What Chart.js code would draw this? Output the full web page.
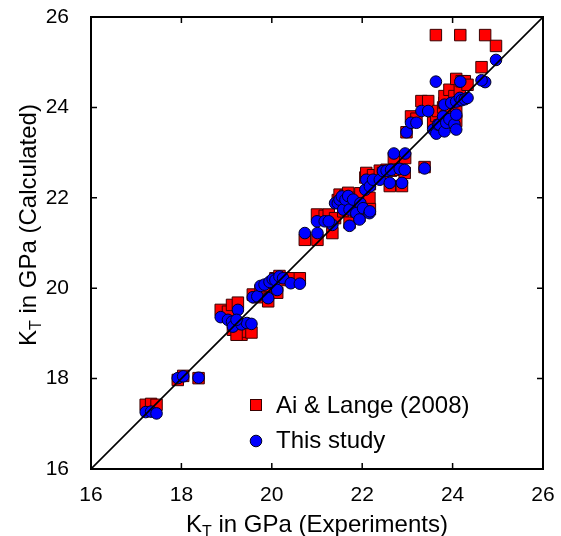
<!DOCTYPE html>
<html>
<head>
<meta charset="utf-8">
<script src="https://cdn.jsdelivr.net/npm/chart.js@4.4.1/dist/chart.umd.min.js"></script>
<style>
    body { margin: 0; background: #fff; }
    #wrap { width: 561px; height: 536px; }
</style>
</head>
<body>
<div id="wrap"><canvas id="chart" width="561" height="536"></canvas></div>
<script>
// 実験値 (x) と計算値 (y)
const expKT = [
    17.21, 17.33, 17.45, 17.92, 18.04, 18.38,
    18.87, 19.03, 19.12, 19.25, 19.14, 19.33, 19.45, 19.55, 19.22,
    19.58, 19.68, 19.75, 19.84, 19.92, 19.95, 20.02, 20.08, 20.12, 20.17, 20.25, 20.42, 20.62,
    20.73, 21.01, 21.34, 21.00, 21.17, 21.26, 21.40, 21.46, 21.50, 21.55, 21.58, 21.63, 21.69,
    21.72, 21.72, 21.80, 21.87, 21.94, 21.96, 22.02, 22.07, 22.09, 22.16, 22.17, 22.17, 22.24, 22.39,
    22.46, 22.54, 22.64, 22.61, 22.70, 22.83, 22.88, 22.94, 22.95, 22.98, 23.38,
    23.08, 23.20, 23.31, 23.46,
    23.57, 23.64, 23.68, 23.71, 23.79, 23.82, 23.82, 23.86, 23.93, 23.97, 24.04, 24.08, 24.08,
    24.08, 24.16, 24.20, 24.27, 24.33,
    23.63, 24.17, 24.72, 24.96, 24.64
];
const aiLangeKT = [
    17.42, 17.44, 17.42, 17.97, 18.06, 18.01,
    19.52, 19.48, 19.63, 19.68, 19.08, 18.97, 19.04, 19.02, 18.97,
    19.86, 19.80, 19.95, 20.02, 19.71, 20.05, 20.12, 20.22, 19.90, 20.27, 20.18, 20.22, 20.22,
    21.07, 21.07, 21.22, 21.63, 21.60, 21.63, 21.55, 21.95, 22.07, 21.90, 21.70, 22.05, 22.11,
    21.80, 21.45, 22.00, 21.70, 21.60, 22.10, 21.80, 22.45, 22.55, 22.00, 21.75, 22.30, 22.50, 22.60,
    22.55, 22.62, 22.60, 22.26, 22.88, 22.62, 22.26, 22.55, 22.88, 23.45, 22.68,
    23.80, 23.75, 24.14, 24.14,
    23.66, 23.81, 23.92, 23.60, 24.00, 24.10, 24.25, 23.80, 24.39, 24.00, 24.25, 24.63, 23.90,
    23.70, 24.39, 24.58, 24.58, 24.50,
    25.60, 25.60, 25.60, 25.36, 24.89
];
const thisStudyKT = [
    17.26, 17.27, 17.23, 18.01, 18.05, 18.02,
    19.36, 19.30, 19.26, 19.52, 19.15, 19.20, 19.23, 19.21, 19.30,
    19.80, 19.82, 20.05, 20.08, 19.78, 20.14, 20.20, 20.18, 19.96, 20.26, 20.22, 20.11, 20.10,
    21.22, 21.22, 21.40, 21.48, 21.48, 21.48, 21.88, 21.88, 21.96, 22.03, 21.74, 21.96, 22.04,
    21.74, 21.38, 21.96, 21.66, 21.52, 21.88, 21.77, 22.18, 22.40, 21.66, 21.70, 22.25, 22.40, 22.40,
    22.59, 22.60, 22.62, 22.33, 22.98, 22.64, 22.33, 22.62, 22.98, 23.45, 22.65,
    23.66, 23.66, 23.92, 23.92,
    23.51, 23.42, 23.62, 23.62, 23.80, 23.47, 24.06, 23.66, 23.74, 24.10, 23.63, 24.13, 23.84,
    23.51, 24.21, 24.16, 24.18, 24.21,
    24.57, 24.57, 24.56, 25.05, 24.60
];
const diagonalKT = [16, 26];
const axisTicks = [16, 18, 20, 22, 24, 26];

const FONT = "'Liberation Sans', Arial, Helvetica, sans-serif";

const toPoints = (xs, ys) => xs.map((x, i) => ({ x: x, y: ys[i] }));

// 枠と内向きの目盛り
const framePlugin = {
    id: 'frame',
    afterDraw(chart) {
        const { ctx, chartArea: a, scales } = chart;
        ctx.save();
        ctx.strokeStyle = '#000';
        ctx.lineWidth = 2;
        ctx.strokeRect(a.left, a.top, a.right - a.left, a.bottom - a.top);
        ctx.lineWidth = 1.5;
        const len = 6;
        axisTicks.forEach(v => {
            const px = scales.x.getPixelForValue(v);
            const py = scales.y.getPixelForValue(v);
            ctx.beginPath();
            ctx.moveTo(px, a.bottom); ctx.lineTo(px, a.bottom - len);
            ctx.moveTo(px, a.top); ctx.lineTo(px, a.top + len);
            ctx.moveTo(a.left, py); ctx.lineTo(a.left + len, py);
            ctx.moveTo(a.right, py); ctx.lineTo(a.right - len, py);
            ctx.stroke();
        });
        ctx.restore();
    }
};

// K_T の下付き文字付きタイトル
function drawKTTitle(ctx, cx, cy, rest) {
    const big = '24px ' + FONT;
    const small = '16px ' + FONT;
    ctx.font = big;
    const wK = ctx.measureText('K').width;
    const wRest = ctx.measureText(rest).width;
    ctx.font = small;
    const wT = ctx.measureText('T').width;
    const total = wK + wT + wRest;
    let x = cx - total / 2;
    ctx.fillStyle = '#000';
    ctx.textBaseline = 'alphabetic';
    ctx.textAlign = 'left';
    ctx.font = big;
    ctx.fillText('K', x, cy);
    x += wK;
    ctx.font = small;
    ctx.fillText('T', x, cy + 5);
    x += wT;
    ctx.font = big;
    ctx.fillText(rest, x, cy);
}

const titlePlugin = {
    id: 'titles',
    afterDraw(chart) {
        const { ctx } = chart;
        ctx.save();
        drawKTTitle(ctx, 317, 532, ' in GPa (Experiments)');
        ctx.translate(36, 225);
        ctx.rotate(-Math.PI / 2);
        drawKTTitle(ctx, 0, 0, ' in GPa (Calculated)');
        ctx.restore();
    }
};

// 凡例
const legendPlugin = {
    id: 'customLegend',
    afterDraw(chart) {
        const { ctx } = chart;
        ctx.save();
        ctx.lineWidth = 1;
        ctx.fillStyle = '#ff0000';
        ctx.strokeStyle = '#3a0000';
        ctx.fillRect(250, 399, 12, 12);
        ctx.strokeRect(250.5, 399.5, 11, 11);
        ctx.beginPath();
        ctx.arc(256, 441, 5.8, 0, Math.PI * 2);
        ctx.fillStyle = '#0000ff';
        ctx.fill();
        ctx.strokeStyle = '#000022';
        ctx.stroke();
        ctx.fillStyle = '#000';
        ctx.font = '24px ' + FONT;
        ctx.textBaseline = 'middle';
        ctx.textAlign = 'left';
        ctx.fillText('Ai & Lange (2008)', 276, 406);
        ctx.fillText('This study', 276, 441);
        ctx.restore();
    }
};

// 目盛りラベルの余白でプロット領域が縮まないようにする
function fixPadding(scale) {
    scale.paddingTop = 0;
    scale.paddingBottom = 0;
    scale.paddingLeft = 0;
    scale.paddingRight = 0;
}

const scaleBase = {
    type: 'linear',
    min: 16,
    max: 26,
    grid: { display: false, drawTicks: false },
    border: { display: false },
};

new Chart(document.getElementById('chart').getContext('2d'), {
    type: 'scatter',
    data: {
        datasets: [
            {
                type: 'line',
                label: 'y = x',
                data: toPoints(diagonalKT, diagonalKT),
                borderColor: '#000',
                borderWidth: 1.6,
                pointRadius: 0,
                fill: false,
                order: 0
            },
            {
                label: 'This study',
                data: toPoints(expKT, thisStudyKT),
                pointStyle: 'circle',
                pointRadius: 5.8,
                backgroundColor: '#0000ff',
                borderColor: '#000022',
                borderWidth: 1,
                order: 1
            },
            {
                label: 'Ai & Lange (2008)',
                data: toPoints(expKT, aiLangeKT),
                pointStyle: 'rect',
                pointRadius: 8.1,
                backgroundColor: '#ff0000',
                borderColor: '#3a0000',
                borderWidth: 1,
                order: 2
            }
        ]
    },
    options: {
        responsive: false,
        animation: false,
        layout: { padding: { top: 17, right: 18, left: 0, bottom: 0 } },
        plugins: {
            legend: { display: false },
            tooltip: { enabled: false }
        },
        scales: {
            x: Object.assign({}, scaleBase, {
                position: 'bottom',
                ticks: {
                    stepSize: 2, maxRotation: 0, padding: 14,
                    color: '#000', font: { family: FONT, size: 21 }
                },
                afterFit(scale) { scale.height = 67; fixPadding(scale); }
            }),
            y: Object.assign({}, scaleBase, {
                position: 'left',
                ticks: {
                    stepSize: 2, padding: 22,
                    color: '#000', font: { family: FONT, size: 21 }
                },
                afterFit(scale) { scale.width = 91; fixPadding(scale); }
            })
        }
    },
    plugins: [framePlugin, titlePlugin, legendPlugin]
});
</script>
</body>
</html>
